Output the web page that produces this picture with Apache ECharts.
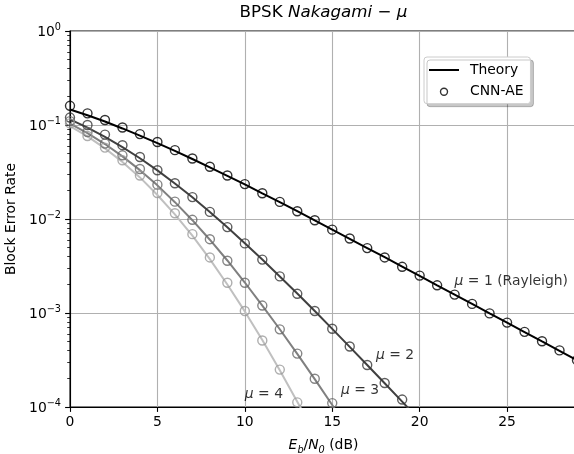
<!DOCTYPE html>
<html>
<head>
<meta charset="utf-8">
<script src="https://cdn.jsdelivr.net/npm/echarts@6/dist/echarts.min.js"></script>
<style>
  html, body { margin: 0; padding: 0; background: #fff; }
  #chart { width: 574px; height: 454px; }
</style>
</head>
<body>
<div id="chart"></div>
<script>
// Eb/N0 grid in dB
const snr = [0, 1, 2, 3, 4, 5, 6, 7, 8, 9, 10, 11, 12, 13, 14, 15, 16, 17, 18, 19, 20, 21, 22, 23, 24, 25, 26, 27, 28, 29];

// theory curves
const theoryMu1 = [0.146, 0.127, 0.109, 0.0919, 0.0771, 0.0642, 0.0530, 0.0435, 0.0355, 0.0288, 0.0233, 0.0187, 0.0151, 0.0121, 0.00966, 0.00772, 0.00616, 0.00491, 0.00392, 0.00312, 0.00248, 0.00197, 0.00157, 0.00125, 0.000992, 0.000789, 0.000627, 0.000498, 0.000396, 0.000314];
const theoryMu2 = [0.115, 0.0939, 0.0748, 0.0582, 0.0443, 0.0329, 0.0239, 0.0170, 0.0119, 0.00816, 0.00553, 0.00370, 0.00245, 0.00161, 0.00105, 0.000677, 0.000436, 0.000280, 0.000179, 0.000114, 0.0000726];
const theoryMu3 = [0.1035, 0.0818, 0.0627, 0.0464, 0.0331, 0.0228, 0.0151, 0.00971, 0.00602, 0.00362, 0.00211, 0.00120, 0.000672, 0.000368, 0.000198, 0.000105, 0.0000553];
const theoryMu4 = [0.0975, 0.0756, 0.0564, 0.0404, 0.0277, 0.0180, 0.0112, 0.00664, 0.00374, 0.00201, 0.00104, 0.000515, 0.000246, 0.000114, 0.0000516];

// CNN-AE markers
const cnnMu1 = [0.160, 0.133, 0.113, 0.094, 0.080, 0.066, 0.054, 0.044, 0.036, 0.029, 0.0235, 0.0188, 0.0152, 0.0121, 0.0097, 0.0077, 0.0062, 0.0049, 0.0039, 0.0031, 0.0025, 0.00197, 0.00157, 0.00125, 0.00099, 0.00079, 0.00063, 0.0005, 0.0004, 0.000315];
const cnnMu2 = [0.120, 0.100, 0.079, 0.061, 0.0457, 0.033, 0.024, 0.0171, 0.0119, 0.0082, 0.0055, 0.0037, 0.00245, 0.0016, 0.00105, 0.00068, 0.00044, 0.00028, 0.00018, 0.00012];
const cnnMu3 = [0.110, 0.0843, 0.0634, 0.0476, 0.034, 0.0232, 0.0153, 0.0098, 0.0061, 0.0036, 0.0021, 0.0012, 0.00067, 0.00037, 0.0002, 0.00011];
const cnnMu4 = [0.104, 0.0764, 0.0575, 0.0421, 0.029, 0.0189, 0.0115, 0.0069, 0.0039, 0.0021, 0.00105, 0.00051, 0.00025, 0.000112];

// curve annotations (data coords)
const noteText = ['{i|μ} = 1 (Rayleigh)', '{i|μ} = 2', '{i|μ} = 3', '{i|μ} = 4'];
const noteX = [22, 17.5, 15.5, 10];
const noteY = [0.002, 0.00033, 0.00014, 0.000127];

// axis ticks
const xTicks = [0, 5, 10, 15, 20, 25];
const yTicks = [1e-4, 1e-3, 1e-2, 1e-1, 1];

const FONT = 'DejaVu Sans';
const lineColors = ['#000000', '#404040', '#808080', '#c0c0c0'];
const markColors = ['#000000', '#363636', '#666666', '#9a9a9a'];

// minor tick values 2..9 x 10^e
const yMinor = [];
for (let e = -4; e < 0; e++) {
    for (let k = 2; k <= 9; k++) yMinor.push(k * Math.pow(10, e));
}

const pairs = (ys) => ys.map((y, i) => [snr[i], y]);

const theory = [theoryMu1, theoryMu2, theoryMu3, theoryMu4];
const cnn = [cnnMu1, cnnMu2, cnnMu3, cnnMu4];

const series = [];
theory.forEach((ys, i) => {
    series.push({
        name: 'Theory',
        type: 'line',
        data: pairs(ys),
        symbol: 'none',
        showSymbol: false,
        clip: true,
        z: 2,
        lineStyle: { color: lineColors[i], width: 2 },
        itemStyle: { color: lineColors[i] },
        emphasis: { disabled: true }
    });
});
cnn.forEach((ys, i) => {
    series.push({
        name: 'CNN-AE',
        type: 'scatter',
        data: pairs(ys),
        symbol: 'circle',
        symbolSize: 9,
        z: 3,
        itemStyle: { color: 'rgba(0,0,0,0)', borderColor: markColors[i], borderWidth: 1.4 },
        emphasis: { disabled: true }
    });
});
series.push({
    name: 'notes',
    type: 'scatter',
    symbolSize: 0,
    silent: true,
    z: 4,
    data: noteText.map((t, i) => ({
        value: [noteX[i], noteY[i]],
        label: { formatter: t }
    })),
    label: {
        show: true,
        position: [0, 0],
        align: 'left',
        verticalAlign: 'bottom',
        offset: [0, 4],
        color: '#000',
        fontFamily: FONT,
        fontSize: 13.9,
        rich: { i: { fontStyle: 'italic', fontFamily: FONT, fontSize: 13.9 } }
    }
});

const chart = echarts.init(document.getElementById('chart'), null, { renderer: 'canvas' });
chart.setOption({
    animation: false,
    backgroundColor: '#fff',
    textStyle: { fontFamily: FONT },
    title: {
        text: '{n|BPSK }{i|Nakagami}{n| − }{i|μ}',
        left: 323.5,
        textAlign: 'center',
        top: 4,
        padding: 0,
        textStyle: {
            fontWeight: 'normal',
            rich: {
                n: { fontFamily: FONT, fontSize: 16.7, fontWeight: 'normal', color: '#000' },
                i: { fontFamily: FONT, fontSize: 16.7, fontWeight: 'normal', fontStyle: 'italic', color: '#000' }
            }
        }
    },
    grid: {
        left: 70,
        right: -3,
        top: 31,
        bottom: 47,
        show: true,
        borderColor: '#000',
        borderWidth: 1.1,
        outerBoundsMode: 'none'
    },
    legend: {
        data: [
            { name: 'Theory', icon: 'path://M0,0H30V2H0Z', itemStyle: { color: '#000' } },
            { name: 'CNN-AE', icon: 'circle', itemStyle: { color: 'rgba(0,0,0,0)', borderColor: '#000', borderWidth: 1.4 } }
        ],
        orient: 'vertical',
        left: 424,
        top: 57,
        padding: [5, 7, 4, 5],
        itemGap: 5.7,
        itemWidth: 30,
        itemHeight: 7,
        selectedMode: false,
        backgroundColor: '#fff',
        borderColor: '#cccccc',
        borderWidth: 1,
        borderRadius: 3,
        shadowColor: 'rgba(0,0,0,0.22)',
        shadowOffsetX: 3,
        shadowOffsetY: 3,
        shadowBlur: 0,
        textStyle: { fontFamily: FONT, fontSize: 13.9, color: '#000', lineHeight: 16, padding: [0, 0, 0, 6] }
    },
    xAxis: {
        type: 'value',
        min: 0,
        max: 29,
        interval: 5,
        name: '{i|E}{s|b}{n|/}{i|N}{s|0}{n| (dB)}',
        nameLocation: 'middle',
        nameGap: 28,
        nameTextStyle: {
            lineHeight: 20,
            rich: {
                n: { fontFamily: FONT, fontSize: 13.9, color: '#000', lineHeight: 20 },
                i: { fontFamily: FONT, fontSize: 13.9, fontStyle: 'italic', color: '#000', lineHeight: 20 },
                s: { fontFamily: FONT, fontSize: 9.7, fontStyle: 'italic', color: '#000', lineHeight: 10, verticalAlign: 'bottom' }
            }
        },
        axisLine: { lineStyle: { color: '#000', width: 1.1 } },
        axisTick: { length: 4.9, customValues: xTicks, lineStyle: { color: '#000', width: 1.1 } },
        axisLabel: {
            customValues: xTicks,
            margin: 8,
            fontFamily: FONT,
            fontSize: 13.9,
            color: '#000'
        },
        splitLine: { show: true, lineStyle: { color: '#b0b0b0', width: 1.1 } }
    },
    yAxis: [{
        type: 'log',
        logBase: 10,
        min: 1e-4,
        max: 1,
        interval: 1,
        name: 'Block Error Rate',
        nameLocation: 'middle',
        nameGap: 50,
        nameTextStyle: { fontFamily: FONT, fontSize: 13.9, color: '#000' },
        axisLine: { show: true, lineStyle: { color: '#000', width: 1.1 } },
        axisTick: { length: 4.9, lineStyle: { color: '#000', width: 1.1 } },
        axisLabel: {
            customValues: yTicks,
            margin: 9,
            fontFamily: FONT,
            fontSize: 13.9,
            lineHeight: 20,
            color: '#000',
            padding: [3, 0, 0, 0],
            formatter: (v) => {
                const e = Math.round(Math.log10(v));
                return '10{s|' + (e < 0 ? '−' + (-e) : e) + '}';
            },
            rich: { s: { fontFamily: FONT, fontSize: 9.7, color: '#000', lineHeight: 14, verticalAlign: 'top' } }
        },
        splitLine: { show: true, lineStyle: { color: '#b0b0b0', width: 1.1 } }
    }, {
        // minor ticks only
        type: 'log',
        logBase: 10,
        min: 1e-4,
        max: 1,
        position: 'left',
        offset: 0,
        alignTicks: false,
        axisLine: { show: true, lineStyle: { color: 'rgba(0,0,0,0)' } },
        axisLabel: { show: true, customValues: yMinor, formatter: () => '' },
        splitLine: { show: false },
        axisTick: { show: true, length: 2.8, customValues: yMinor, lineStyle: { color: '#000', width: 0.8 } }
    }],
    series
});
</script>
</body>
</html>
